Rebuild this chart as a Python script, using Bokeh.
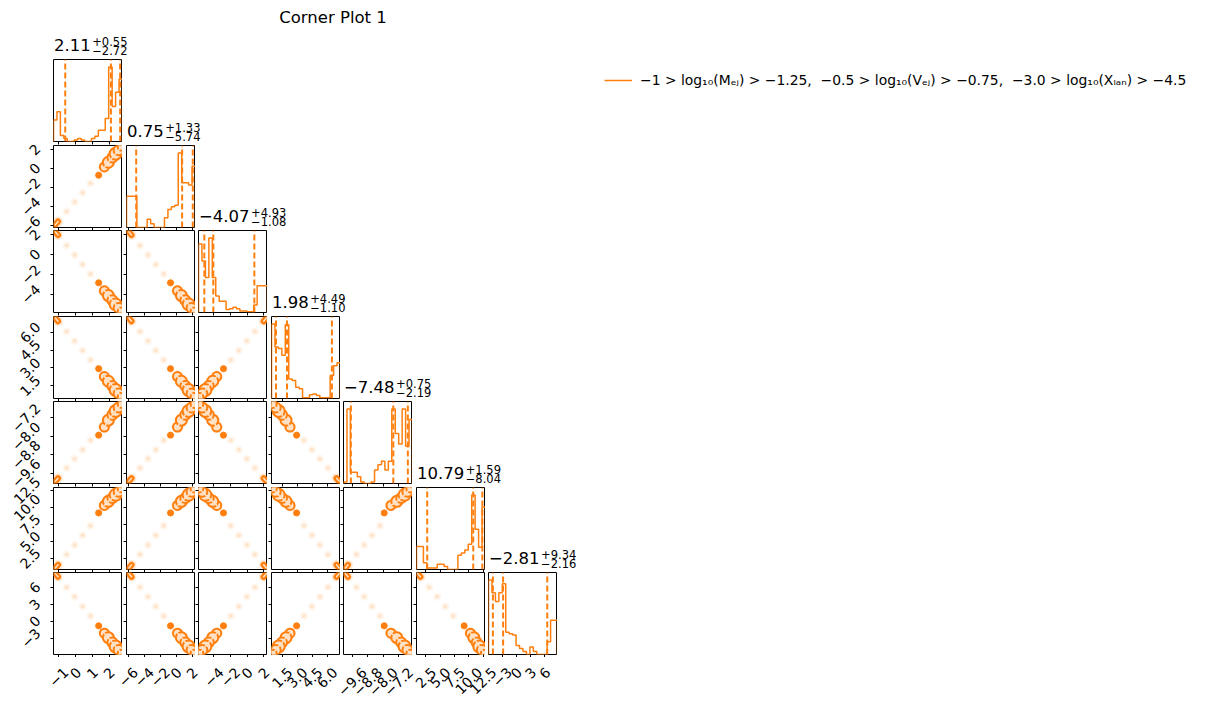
import math
import numpy as np
from bokeh.plotting import figure
from bokeh.models import Range1d, FixedTicker, GridPlot, Legend, LegendItem
from bokeh.embed import file_html
from bokeh.resources import INLINE
from bokeh.core.properties import value

# ---------------- data ----------------
param_lo = [-1.31, -6.20, -5.85, 0.43, -10.05, 0.88, -5.90]
param_hi = [2.80, 2.42, 2.44, 7.33, -6.49, 12.93, 8.70]

medians = [2.11, 0.75, -4.07, 1.98, -7.48, 10.79, -2.81]
err_plus = [0.55, 1.33, 4.93, 4.49, 0.75, 1.59, 9.34]
err_minus = [2.72, 5.74, 1.08, 1.10, 2.19, 8.04, 2.16]

ticks_p0 = [-1, 0, 1, 2]
ticks_p1 = [-6, -4, -2, 0, 2]
ticks_p2 = [-4, -2, 0, 2]
ticks_p3 = [1.5, 3.0, 4.5, 6.0]
ticks_p4 = [-9.6, -8.8, -8.0, -7.2]
ticks_p5 = [2.5, 5.0, 7.5, 10.0, 12.5]
ticks_p6 = [-3, 0, 3, 6]

labels_p0 = ["\u22121", "0", "1", "2"]
labels_p1 = ["\u22126", "\u22124", "\u22122", "0", "2"]
labels_p2 = ["\u22124", "\u22122", "0", "2"]
labels_p3 = ["1.5", "3.0", "4.5", "6.0"]
labels_p4 = ["\u22129.6", "\u22128.8", "\u22128.0", "\u22127.2"]
labels_p5 = ["2.5", "5.0", "7.5", "10.0", "12.5"]
labels_p6 = ["\u22123", "0", "3", "6"]

# 20-bin histograms (relative heights)
hist_p0 = [0.29, 0.40, 0.08, 0.04, 0.00, 0.00, 0.02, 0.04, 0.02, 0.00,
           0.00, 0.04, 0.07, 0.15, 0.15, 0.31, 1.00, 0.47, 0.66, 0.84]
hist_p1 = [0.42, 0.42, 0.42, 0.00, 0.00, 0.00, 0.11, 0.05, 0.00, 0.00,
           0.00, 0.13, 0.24, 0.28, 0.30, 1.00, 0.60, 0.60, 0.57, 0.82]
hist_p2 = [0.92, 0.69, 0.47, 1.00, 0.47, 0.22, 0.15, 0.15, 0.04, 0.05,
           0.07, 0.05, 0.02, 0.02, 0.01, 0.01, 0.10, 0.36, 0.36, 0.36]
hist_p3 = [1.00, 0.69, 0.67, 0.58, 0.99, 0.26, 0.24, 0.15, 0.13, 0.01,
           0.01, 0.05, 0.06, 0.04, 0.01, 0.01, 0.01, 0.31, 0.44, 0.48]
hist_p4 = [0.02, 1.00, 0.15, 0.15, 0.09, 0.02, 0.00, 0.00, 0.02, 0.18,
           0.25, 0.30, 0.18, 0.30, 1.00, 0.67, 0.53, 1.00, 0.50, 0.86]
hist_p5 = [0.31, 0.31, 0.09, 0.02, 0.02, 0.02, 0.07, 0.07, 0.04, 0.00,
           0.00, 0.00, 0.19, 0.22, 0.26, 0.34, 1.00, 0.54, 0.30, 0.84]
hist_p6 = [1.00, 0.83, 0.71, 0.83, 0.95, 0.30, 0.28, 0.26, 0.12, 0.08,
           0.04, 0.00, 0.10, 0.04, 0.00, 0.00, 0.00, 0.17, 0.46, 0.46]

# sample clusters along the (shared) degenerate track of the posterior
node_p0 = [-1.20, -1.04, -0.53, -0.05, 0.42, 0.89, 1.38, 1.72, 1.96, 2.20, 2.39, 2.57, 2.75]
node_p1 = [-5.90, -5.57, -4.51, -3.52, -2.54, -1.55, -0.70, 0.17, 0.66, 1.15, 1.56, 1.93, 2.30]
node_p2 = [2.30, 1.98, 0.93, -0.03, -1.00, -1.97, -2.85, -3.66, -4.14, -4.62, -5.03, -5.39, -5.75]
node_p3 = [7.20, 6.93, 6.07, 5.27, 4.47, 3.68, 2.94, 2.28, 1.88, 1.48, 1.15, 0.85, 0.55]
node_p4 = [-9.95, -9.82, -9.38, -8.98, -8.58, -8.17, -7.95, -7.60, -7.30, -7.07, -6.90, -6.75, -6.60]
node_p5 = [1.10, 1.57, 3.09, 4.49, 5.90, 7.30, 9.20, 10.30, 10.90, 11.40, 11.85, 12.30, 12.80]
node_p6 = [8.50, 7.93, 6.08, 4.37, 2.66, 0.95, -0.80, -2.10, -2.90, -3.76, -4.47, -5.11, -5.75]

suptitle = "Corner Plot 1"
legend_label = ("\u22121 > log\u2081\u2080(M\u2091\u2c7c) > \u22121.25,  "
                "\u22120.5 > log\u2081\u2080(V\u2091\u2c7c) > \u22120.75,  "
                "\u22123.0 > log\u2081\u2080(X\u2097\u2090\u2099) > \u22124.5")

ticks = [ticks_p0, ticks_p1, ticks_p2, ticks_p3, ticks_p4, ticks_p5, ticks_p6]
labels = [labels_p0, labels_p1, labels_p2, labels_p3, labels_p4, labels_p5, labels_p6]
hists = [hist_p0, hist_p1, hist_p2, hist_p3, hist_p4, hist_p5, hist_p6]
nodes = [node_p0, node_p1, node_p2, node_p3, node_p4, node_p5, node_p6]

# ---------------- style / layout ----------------
ORANGE = "#ff7f0e"
LIGHT = "#ffe2c6"
FONT = "DejaVu Sans"
LAB_FS = 13.9
LINE_H = 1.164 * LAB_FS
MAIN_FS = 16.5
SCRIPT_FS = 11.5
BASE_K = 0.36   # baseline correction (fraction of font size)
RING_SIZES = [9, 11, 10, 12, 10, 8]   # contour-ring marker sizes along the main band

FW, FH = 69, 82
YLAB_W = 50          # column holding the y tick labels
XLAB_H = 47          # row holding the x tick labels
col_gap = [3, 4, 3, 4, 3, 4, 3]
row_gap = [4, 3, 4, 3, 4, 3, 3]
HEADER_H = 59
LEGEND_W = 640
col_w = [g + FW for g in col_gap]
row_h = [FH + g for g in row_gap]
frame_left = [YLAB_W + sum(col_w[:j]) + col_gap[j] for j in range(7)]
frame_top = [HEADER_H + sum(row_h[:i]) for i in range(7)]
GRID_W = YLAB_W + sum(col_w)
GRID_BOTTOM = frame_top[6] + FH

ADV = {"0": .636, "1": .636, "2": .636, "3": .636, "4": .636, "5": .636,
       "6": .636, "7": .636, "8": .636, "9": .636, ".": .318,
       "\u2212": .838, "+": .838}


def text_w(s, size):
    return sum(ADV.get(c, 0.6) for c in s) * size


def half_diag(s):
    # half extent of a 45-degree rotated label box
    return (text_w(s, LAB_FS) + LINE_H) * 0.3536


def fmt(v):
    return f"{v:.2f}".replace("-", "\u2212")


def pixel_fig(w, h, left=0, bottom=0):
    """Figure whose data coordinates are canvas pixels (y downwards)."""
    p = figure(width=w, height=h, x_range=Range1d(left, w), y_range=Range1d(h - bottom, 0),
               x_axis_type=None, y_axis_type=None, toolbar_location=None,
               output_backend="svg", min_border_left=left, min_border_bottom=bottom,
               min_border_top=0, min_border_right=0, outline_line_color=None)
    return p


def draw_title(p, cx, base, k, xmin):
    main = fmt(medians[k])
    sup = "+" + f"{err_plus[k]:.2f}"
    sub = "\u2212" + f"{err_minus[k]:.2f}"
    mw = text_w(main, MAIN_FS)
    sw = max(text_w(sup, SCRIPT_FS), text_w(sub, SCRIPT_FS))
    total = mw + 1.5 + sw
    x0 = max(xmin, cx - total / 2)
    p.text(x=[x0], y=[base - BASE_K * MAIN_FS], text=[main], text_font=value(FONT),
           text_font_size=value(f"{MAIN_FS}px"), text_baseline="alphabetic",
           text_align="left", text_color="black")
    sb = BASE_K * SCRIPT_FS
    p.text(x=[x0 + mw + 1.5] * 2, y=[base - 5.7 - sb, base + 3.3 - sb], text=[sup, sub],
           text_font=value(FONT), text_font_size=value(f"{SCRIPT_FS}px"),
           text_baseline="alphabetic", text_align="left", text_color="black")


def style_axis(ax):
    ax.axis_line_color = None
    ax.major_tick_line_color = "black"
    ax.major_tick_line_width = 1
    ax.major_tick_in = 0
    ax.major_tick_out = 3
    ax.minor_tick_line_color = None
    ax.major_label_standoff = 0
    ax.major_label_text_color = None


children = []

# header: suptitle + first diagonal title
hf = pixel_fig(GRID_W, HEADER_H, left=0)
hf.text(x=[332.5], y=[22.7 - BASE_K * 16.5], text=[suptitle], text_font=value(FONT),
        text_font_size=value("16.5px"), text_align="center",
        text_baseline="alphabetic", text_color="black")
draw_title(hf, frame_left[0] + FW / 2, HEADER_H - 8.6, 0, frame_left[0] + 0.5)
children.append((hf, 0, 0, 1, 8))

# legend
LEG_H = HEADER_H + row_h[0]
lp = pixel_fig(LEGEND_W, LEG_H, left=0, bottom=row_gap[0])
lr = lp.line(x=[np.nan], y=[np.nan], line_color=ORANGE, line_width=1.5)
leg = Legend(items=[LegendItem(label=value(legend_label), renderers=[lr])],
             location=(47, 51), padding=0, margin=0, spacing=0,
             glyph_width=28, glyph_height=20, label_standoff=8,
             label_text_font=FONT, label_text_font_size="13.9px",
             label_text_color="black",
             border_line_color=None, background_fill_alpha=0)
lp.add_layout(leg)
children.append((lp, 0, 8, 2, 1))

# titles of diagonal panels 1..6 (in the empty upper cells)
for i in range(1, 7):
    span = 7 - i + (1 if i == 6 else 0)
    w = sum(col_w[i:]) + (LEGEND_W if i == 6 else 0)
    h = row_h[i - 1]
    tf = pixel_fig(w, h, left=col_gap[i], bottom=row_gap[i - 1])
    draw_title(tf, col_gap[i] + FW / 2, h - 8.6, i, col_gap[i] + 0.5)
    children.append((tf, i, i + 1, 1, span))

# y tick labels of the left column (one scale per panel row)
YL_H = sum(row_h)
ylf = pixel_fig(YLAB_W, YL_H, left=0, bottom=row_gap[6])
yframe_h = YL_H - row_gap[6]
for i in range(1, 7):
    s = (param_hi[i] - param_lo[i]) / FH
    b = GRID_BOTTOM - (frame_top[i] + FH)
    start = param_lo[i] - b * s
    ylf.extra_y_ranges[f"r{i}"] = Range1d(start, start + yframe_h * s)
    xs = [frame_left[0] - 9.7 - half_diag(l) for l in labels[i]]
    ylf.text(x=xs, y=ticks[i], text=labels[i], y_range_name=f"r{i}",
             angle=math.pi / 4, text_align="center", text_baseline="middle",
             text_font=value(FONT), text_font_size=value(f"{LAB_FS}px"),
             text_color="black")
children.append((ylf, 1, 0, 7, 1))

# x tick labels of the bottom row (one scale per panel column)
xlf = pixel_fig(GRID_W, XLAB_H, left=0)
XL_TOP = GRID_BOTTOM + 9.7 - (GRID_BOTTOM + row_gap[6])
for j in range(7):
    s = (param_hi[j] - param_lo[j]) / FW
    start = param_lo[j] - frame_left[j] * s
    xlf.extra_x_ranges[f"c{j}"] = Range1d(start, start + GRID_W * s)
    ys = [XL_TOP + half_diag(l) for l in labels[j]]
    xlf.text(x=ticks[j], y=ys, text=labels[j], x_range_name=f"c{j}",
             angle=math.pi / 4, text_align="center", text_baseline="middle",
             text_font=value(FONT), text_font_size=value(f"{LAB_FS}px"),
             text_color="black")
children.append((xlf, 8, 0, 1, 8))

# panels
for i in range(7):
    for j in range(i + 1):
        diag = i == j
        if diag:
            yr = Range1d(0, 1.1 * max(hists[i]))
        else:
            yr = Range1d(param_lo[i], param_hi[i])
        p = figure(width=col_w[j], height=row_h[i],
                   x_range=Range1d(param_lo[j], param_hi[j]), y_range=yr,
                   toolbar_location=None, output_backend="svg",
                   min_border_left=col_gap[j], min_border_bottom=row_gap[i],
                   min_border_top=0, min_border_right=0,
                   outline_line_color="black", outline_line_width=1,
                   background_fill_color="white", border_fill_color="white")
        p.grid.visible = False
        xa = p.xaxis[0]
        style_axis(xa)
        xa.ticker = FixedTicker(ticks=ticks[j])
        ya = p.yaxis[0]
        if diag:
            ya.visible = False
            edges = np.linspace(param_lo[i], param_hi[i], len(hists[i]) + 1)
            xs = [edges[0]] + list(edges)
            ys = [0] + list(hists[i]) + [0]
            p.step(xs, ys, mode="after", line_color=ORANGE, line_width=1.5)
            q = [medians[i] - err_minus[i], medians[i], medians[i] + err_plus[i]]
            top = 1.1 * max(hists[i])
            p.segment(x0=q, y0=[0] * 3, x1=q, y1=[top] * 3, line_color=ORANGE,
                      line_width=2, line_dash="6 3")
        else:
            style_axis(ya)
            ya.ticker = FixedTicker(ticks=ticks[i])
            xv = nodes[j]
            yv = nodes[i]
            # faint samples along the track
            p.scatter(xv, yv, size=8, fill_color=ORANGE, fill_alpha=0.07, line_color=None)
            p.scatter(xv[2:6], yv[2:6], size=4, fill_color=ORANGE, fill_alpha=0.15,
                      line_color=None)
            # density halo around the modes
            p.line(xv[7:], yv[7:], line_color=ORANGE, line_alpha=0.15, line_width=12,
                   line_cap="round", line_join="round")
            p.line(xv[0:2], yv[0:2], line_color=ORANGE, line_alpha=0.15, line_width=10,
                   line_cap="round")
            # secondary mode
            p.line(xv[0:2], yv[0:2], line_color=ORANGE, line_width=6, line_cap="round")
            p.line(xv[0:2], yv[0:2], line_color=LIGHT, line_width=1.5, line_cap="round")
            # isolated cluster
            p.scatter(xv[6:7], yv[6:7], size=6, fill_color=ORANGE, line_color=ORANGE)
            # main mode band (contour rings)
            p.line(xv[7:], yv[7:], line_color=ORANGE, line_width=7, line_cap="round",
                   line_join="round")
            p.scatter(xv[7:], yv[7:], size=RING_SIZES, fill_color=LIGHT,
                      line_color=ORANGE, line_width=2)
            p.line(xv[7:], yv[7:], line_color=LIGHT, line_width=1.5, line_cap="round",
                   line_join="round")
        children.append((p, i + 1, j + 1))

grid = GridPlot(children=children, toolbar_location=None)

open("out.html", "w").write(file_html(grid, INLINE))
